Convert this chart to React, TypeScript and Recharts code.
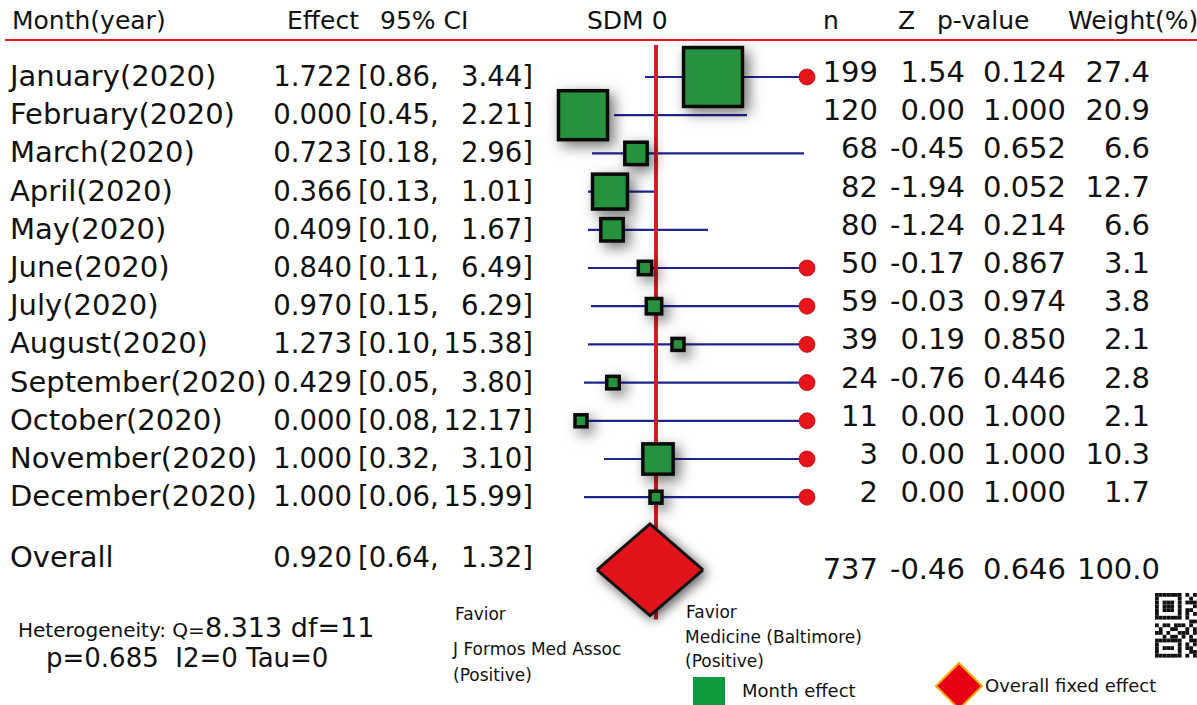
import React from "react";
import {
  ComposedChart,
  XAxis,
  YAxis,
  Scatter,
  Area,
  ReferenceLine,
  ReferenceDot,
} from "recharts";

const months = [
  "January(2020)",
  "February(2020)",
  "March(2020)",
  "April(2020)",
  "May(2020)",
  "June(2020)",
  "July(2020)",
  "August(2020)",
  "September(2020)",
  "October(2020)",
  "November(2020)",
  "December(2020)",
];
const effect = [1.722, 0.0, 0.723, 0.366, 0.409, 0.84, 0.97, 1.273, 0.429, 0.0, 1.0, 1.0];
const ciLow = [0.86, 0.45, 0.18, 0.13, 0.1, 0.11, 0.15, 0.1, 0.05, 0.08, 0.32, 0.06];
const ciHigh = [3.44, 2.21, 2.96, 1.01, 1.67, 6.49, 6.29, 15.38, 3.8, 12.17, 3.1, 15.99];
const nCount = [199, 120, 68, 82, 80, 50, 59, 39, 24, 11, 3, 2];
const zScore = [1.54, 0.0, -0.45, -1.94, -1.24, -0.17, -0.03, 0.19, -0.76, 0.0, 0.0, 0.0];
const pValue = [0.124, 1.0, 0.652, 0.052, 0.214, 0.867, 0.974, 0.85, 0.446, 1.0, 1.0, 1.0];
const weight = [27.4, 20.9, 6.6, 12.7, 6.6, 3.1, 3.8, 2.1, 2.8, 2.1, 10.3, 1.7];

// positions on the SDM axis (0 = red line), as drawn in the plot
const sdmPoint = [0.57, -0.73, -0.2, -0.46, -0.44, -0.11, -0.02, 0.22, -0.43, -0.75, 0.02, 0.0];
const sdmLow = [-0.11, -0.42, -0.64, -0.68, -0.68, -0.68, -0.65, -0.68, -0.72, -0.75, -0.52, -0.72];
const sdmHigh = [1.51, 0.91, 1.48, 0.02, 0.52, 1.51, 1.51, 1.51, 1.51, 1.51, 1.51, 1.51];
// CI runs off the right end -> red dot
const sdmCut = [true, false, false, false, false, true, true, true, true, true, true, true];

const overallEffect = [0.92, 0.64, 1.32];
const overallStats = [737, -0.46, 0.646, 100.0];
const overallSdm = [-0.59, -0.06, 0.47]; // left tip, centre, right tip

const OVERALL_ROW = 12.9;
const DIAMOND_HALF = 1.2;

const FONT = "'DejaVu Sans', sans-serif";

const rows = months.map((m, i) => ({ x: sdmPoint[i], y: i, i }));

const diamond = [
  { x: overallSdm[0], band: [OVERALL_ROW, OVERALL_ROW] },
  { x: overallSdm[1], band: [OVERALL_ROW - DIAMOND_HALF, OVERALL_ROW + DIAMOND_HALF] },
  { x: overallSdm[2], band: [OVERALL_ROW, OVERALL_ROW] },
];

const squareSide = (w: number) => Math.max(12, 6.2 * Math.pow(w, 0.68));

const MonthSquare = (props: any) => {
  const { cx, cy, payload } = props;
  const s = squareSide(weight[payload.i]);
  return (
    <rect
      x={cx - s / 2}
      y={cy - s / 2}
      width={s}
      height={s}
      fill="#27923d"
      stroke="#0a0a0a"
      strokeWidth={3.5}
      style={{ filter: "drop-shadow(5px 5px 7px rgba(0,0,0,0.55))" }}
    />
  );
};

const RowText = (props: any) => {
  const { cy, payload } = props;
  const i = payload.i;
  const yl = cy + 9;
  const yr = cy + 5;
  return (
    <g fontFamily={FONT} fill="#111">
      <text x={10} y={yl} fontSize={29}>
        {months[i]}
      </text>
      <text x={352} y={yl} fontSize={27.5} textAnchor="end">
        {effect[i].toFixed(3)}
      </text>
      <text x={358} y={yl} fontSize={27.5}>
        [{ciLow[i].toFixed(2)},
      </text>
      <text x={533} y={yl} fontSize={27.5} textAnchor="end">
        {ciHigh[i].toFixed(2)}]
      </text>
      <g fontSize={29} textAnchor="end">
        <text x={878} y={yr}>{nCount[i]}</text>
        <text x={965} y={yr}>{zScore[i].toFixed(2)}</text>
        <text x={1066} y={yr}>{pValue[i].toFixed(3)}</text>
        <text x={1150} y={yr}>{weight[i].toFixed(1)}</text>
      </g>
    </g>
  );
};

const OverallText = (props: any) => {
  const { cy } = props;
  const yl = cy - 3;
  const yr = cy + 9;
  return (
    <g fontFamily={FONT} fill="#111">
      <text x={10} y={yl} fontSize={29}>
        Overall
      </text>
      <text x={352} y={yl} fontSize={27.5} textAnchor="end">
        {overallEffect[0].toFixed(3)}
      </text>
      <text x={358} y={yl} fontSize={27.5}>
        [{overallEffect[1].toFixed(2)},
      </text>
      <text x={533} y={yl} fontSize={27.5} textAnchor="end">
        {overallEffect[2].toFixed(2)}]
      </text>
      <g fontSize={29} textAnchor="end">
        <text x={878} y={yr}>{overallStats[0]}</text>
        <text x={965} y={yr}>{overallStats[1].toFixed(2)}</text>
        <text x={1066} y={yr}>{overallStats[2].toFixed(3)}</text>
        <text x={1160} y={yr}>{overallStats[3].toFixed(1)}</text>
      </g>
    </g>
  );
};

const qrRows = [
  "11111110101",
  "10000010010",
  "10111010111",
  "10111010001",
  "10111010110",
  "10000010101",
  "11111110100",
  "00000000011",
  "10110111010",
  "01001100101",
  "11010011101",
  "00101101010",
  "11111110011",
  "10000010101",
  "10111010110",
  "10000010011",
  "11111110101",
];

export default function App() {
  return (
    <div style={{ position: "relative", width: 1197, height: 705, background: "#fff" }}>
      <style>{`body{margin:0} .overall-diamond{filter:drop-shadow(3px 3px 6px rgba(0,0,0,0.65))}`}</style>
      <ComposedChart
        width={1197}
        height={705}
        margin={{ top: 38.8, right: 381, bottom: 55, left: 536 }}
      >
        <XAxis dataKey="x" type="number" domain={[-1.2, 1.6]} hide />
        <YAxis dataKey="y" type="number" domain={[-1, 15]} reversed hide />
        {rows.map((r) => (
          <ReferenceLine
            key={"ci" + r.i}
            segment={[
              { x: sdmLow[r.i], y: r.i },
              { x: sdmHigh[r.i], y: r.i },
            ]}
            stroke="#1f2590"
            strokeWidth={2.2}
            zIndex={350}
          />
        ))}
        <ReferenceLine
          segment={[
            { x: 0, y: -0.84 },
            { x: 0, y: 14.2 },
          ]}
          stroke="#d21f26"
          strokeWidth={4}
          zIndex={360}
        />
        <Scatter data={rows} shape={MonthSquare} isAnimationActive={false} zIndex={600} />
        {rows
          .filter((r) => sdmCut[r.i])
          .map((r) => (
            <ReferenceDot
              key={"cut" + r.i}
              x={sdmHigh[r.i]}
              y={r.i}
              r={8}
              fill="#e8141c"
              stroke="#b30d12"
              strokeWidth={0.8}
              zIndex={620}
            />
          ))}
        <Area
          data={diamond}
          dataKey="band"
          type="linear"
          className="overall-diamond"
          fill="#e3131b"
          fillOpacity={1}
          stroke="#141414"
          strokeWidth={3}
          dot={false}
          activeDot={false}
          isAnimationActive={false}
          zIndex={630}
        />
        <Scatter data={rows} shape={RowText} isAnimationActive={false} zIndex={700} />
        <Scatter
          data={[{ x: overallSdm[1], y: OVERALL_ROW }]}
          shape={OverallText}
          isAnimationActive={false}
          zIndex={700}
        />
      </ComposedChart>

      <svg
        width={1197}
        height={705}
        style={{ position: "absolute", left: 0, top: 0, pointerEvents: "none" }}
        fontFamily={FONT}
      >
        <g fontSize={25} fill="#111">
          <text x={12} y={29}>Month(year)</text>
          <text x={287} y={29}>Effect</text>
          <text x={380} y={29}>95% CI</text>
          <text x={587} y={29}>SDM 0</text>
          <text x={823} y={29}>n</text>
          <text x={898} y={29}>Z</text>
          <text x={937} y={29}>p-value</text>
          <text x={1068} y={29}>Weight(%)</text>
        </g>
        <line x1={5} y1={40} x2={1197} y2={40} stroke="#e31b23" strokeWidth={2} />

        <text x={18} y={637} fill="#111">
          <tspan fontSize={20}>Heterogeneity: Q=</tspan>
          <tspan fontSize={27}>8.313 df=11</tspan>
        </text>
        <text x={46} y={667} fontSize={26} fill="#111" xmlSpace="preserve">
          p=0.685  I2=0 Tau=0
        </text>

        <g fontSize={17} fill="#111">
          <text x={455} y={620}>Favior</text>
          <text x={453} y={655}>J Formos Med Assoc</text>
          <text x={453} y={681}>(Positive)</text>
          <text x={686} y={618}>Favior</text>
          <text x={685} y={643}>Medicine (Baltimore)</text>
          <text x={685} y={667}>(Positive)</text>
          <text x={742} y={697} fontSize={18}>Month effect</text>
          <text x={985} y={692} fontSize={18}>Overall fixed effect</text>
        </g>
        <rect x={693} y={677} width={32} height={30} fill="#0f9a3c" />
        <polygon
          points="959,663 982,686 959,709 936,686"
          fill="#e60012"
          stroke="#f2a900"
          strokeWidth={2}
        />

        <g fill="#111">
          {qrRows.map((row, r) =>
            row.split("").map((c, k) =>
              c === "1" ? (
                <rect key={r + "-" + k} x={1155 + k * 3.8} y={593 + r * 3.8} width={3.8} height={3.8} />
              ) : null
            )
          )}
        </g>
      </svg>
    </div>
  );
}
